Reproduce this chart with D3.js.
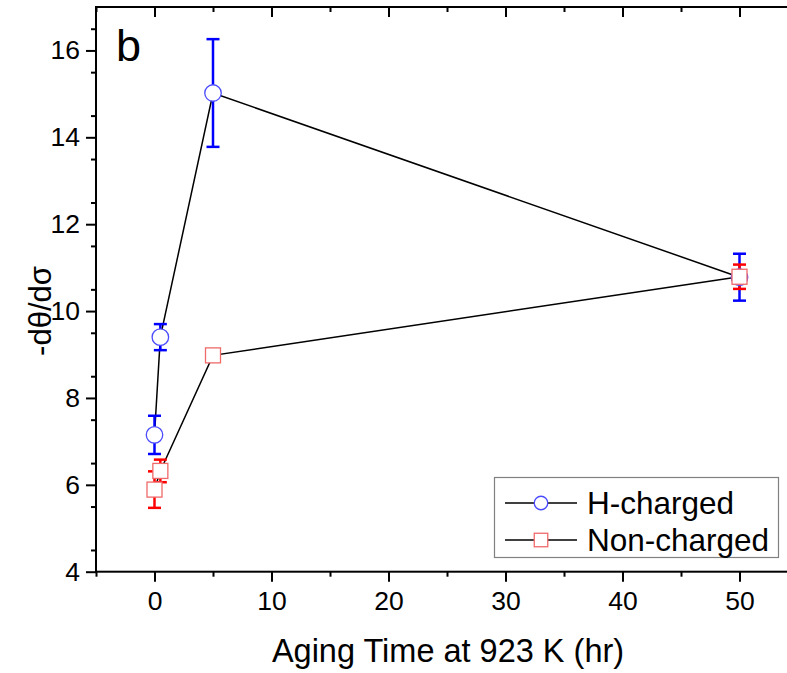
<html>
<head>
<script src="https://d3js.org/d3.v7.min.js"></script>
<style>
    body { margin: 0; background: #fff; }
    text { font-family: "Liberation Sans", Arial, sans-serif; fill: #000; }
</style>
</head>
<body>
<svg id="chart" width="787" height="673"></svg>
<script>
    // aging time (hr)
    const agingTime = [0, 0.5, 5, 50];
    // H-charged series
    const hValues = [7.15, 9.4, 15.02, 10.78];
    const hErrors = [0.44, 0.3, 1.24, 0.54];
    // Non-charged series
    const nValues = [5.89, 6.32, 8.98, 10.79];
    const nErrors = [0.42, 0.26, 0.08, 0.28];

    const xMajor = [0, 10, 20, 30, 40, 50];
    const xMinor = [-5, 5, 15, 25, 35, 45, 55];
    const yMajor = [4, 6, 8, 10, 12, 14, 16];
    const yMinor = d3.range(4.5, 17.01, 1);

    const series = [
        { name: 'H-charged', values: hValues, errors: hErrors, shape: 'circle', stroke: '#4a4aff', bar: '#0000ff' },
        { name: 'Non-charged', values: nValues, errors: nErrors, shape: 'square', stroke: '#f06a6a', bar: '#ff0000' }
    ];

    const svg = d3.select('#chart');
    svg.append('rect').attr('width', 787).attr('height', 673).attr('fill', '#fff');

    const x = d3.scaleLinear().domain([-5, 55]).range([96, 798]);
    const y = d3.scaleLinear().domain([4, 17]).range([571.7, 7]);

    const plot = svg.append('g');

    // frame
    const axisStroke = 2;
    function styleAxis(g) {
        g.select('.domain').remove();
        g.selectAll('.tick line').attr('stroke', '#000').attr('stroke-width', axisStroke);
        g.selectAll('.tick text').attr('font-size', 26.5).attr('font-family', '"Liberation Sans", Arial, sans-serif').attr('fill', '#000');
    }

    // bottom axis
    plot.append('g')
        .attr('transform', `translate(0, ${y(4)})`)
        .call(d3.axisBottom(x).tickValues(xMajor).tickSize(10).tickPadding(9).tickFormat(d3.format('d')))
        .call(styleAxis);
    plot.append('g')
        .attr('transform', `translate(0, ${y(4)})`)
        .call(d3.axisBottom(x).tickValues(xMinor).tickSize(5).tickFormat(''))
        .call(styleAxis);

    // top axis (inward ticks)
    plot.append('g')
        .attr('transform', `translate(0, ${y(17)})`)
        .call(d3.axisBottom(x).tickValues(xMajor).tickSize(10).tickFormat(''))
        .call(styleAxis);
    plot.append('g')
        .attr('transform', `translate(0, ${y(17)})`)
        .call(d3.axisBottom(x).tickValues(xMinor).tickSize(5).tickFormat(''))
        .call(styleAxis);

    // left axis
    plot.append('g')
        .attr('transform', `translate(${x(-5)}, 0)`)
        .call(d3.axisLeft(y).tickValues(yMajor).tickSize(10).tickPadding(6).tickFormat(d3.format('d')))
        .call(styleAxis);
    plot.append('g')
        .attr('transform', `translate(${x(-5)}, 0)`)
        .call(d3.axisLeft(y).tickValues(yMinor).tickSize(5).tickFormat(''))
        .call(styleAxis);

    // right axis (inward ticks)
    plot.append('g')
        .attr('transform', `translate(${x(55)}, 0)`)
        .call(d3.axisLeft(y).tickValues(yMajor).tickSize(10).tickFormat(''))
        .call(styleAxis);

    plot.append('rect')
        .attr('x', x(-5)).attr('y', y(17))
        .attr('width', x(55) - x(-5)).attr('height', y(4) - y(17))
        .attr('fill', 'none').attr('stroke', '#000').attr('stroke-width', axisStroke);

    // connecting lines
    const line = d3.line().x(d => x(d[0])).y(d => y(d[1]));
    series.forEach(s => {
        plot.append('path')
            .datum(agingTime.map((t, i) => [t, s.values[i]]))
            .attr('d', line)
            .attr('fill', 'none')
            .attr('stroke', '#000')
            .attr('stroke-width', 1.5);
    });

    // error bars
    const capHalf = 6.5;
    series.forEach(s => {
        const g = plot.append('g');
        agingTime.forEach((t, i) => {
            const cx = x(t);
            const top = y(s.values[i] + s.errors[i]);
            const bot = y(s.values[i] - s.errors[i]);
            g.append('line').attr('x1', cx).attr('x2', cx).attr('y1', top).attr('y2', bot)
                .attr('stroke', s.bar).attr('stroke-width', 2.5);
            [top, bot].forEach(yy => {
                g.append('line').attr('x1', cx - capHalf).attr('x2', cx + capHalf).attr('y1', yy).attr('y2', yy)
                    .attr('stroke', s.bar).attr('stroke-width', 2.5);
            });
        });
    });

    // markers
    function drawMarker(g, s, cx, cy, size) {
        if (s.shape === 'circle') {
            g.append('circle').attr('cx', cx).attr('cy', cy).attr('r', size / 2)
                .attr('fill', '#fff').attr('stroke', s.stroke).attr('stroke-width', 1.3);
        } else {
            g.append('rect').attr('x', cx - size / 2).attr('y', cy - size / 2)
                .attr('width', size).attr('height', size)
                .attr('fill', '#fff').attr('stroke', s.stroke).attr('stroke-width', 1.3);
        }
    }
    series.forEach(s => {
        const g = plot.append('g');
        agingTime.forEach((t, i) => drawMarker(g, s, x(t), y(s.values[i]), s.shape === 'circle' ? 16.5 : 15));
    });

    // panel label
    svg.append('text').attr('x', 116).attr('y', 61).attr('font-size', 45).text('b');

    // axis titles
    svg.append('text')
        .attr('x', 448).attr('y', 662)
        .attr('text-anchor', 'middle')
        .attr('font-size', 32.5)
        .text('Aging Time at 923 K (hr)');
    svg.append('text')
        .attr('transform', 'translate(51, 311) rotate(-90)')
        .attr('text-anchor', 'middle')
        .attr('font-size', 31)
        .text('-dθ/dσ');

    // legend
    const legend = svg.append('g');
    legend.append('rect')
        .attr('x', 494.5).attr('y', 477.5).attr('width', 284).attr('height', 80)
        .attr('fill', '#fff').attr('stroke', '#808080').attr('stroke-width', 1.2);
    series.forEach((s, i) => {
        const ry = 503 + i * 37;
        legend.append('line').attr('x1', 505).attr('x2', 577).attr('y1', ry).attr('y2', ry)
            .attr('stroke', '#000').attr('stroke-width', 1.5);
        drawMarker(legend, s, 541, ry, 13.5);
        legend.append('text').attr('x', 587).attr('y', ry + 11).attr('font-size', 31.5).text(s.name);
    });
</script>
</body>
</html>
